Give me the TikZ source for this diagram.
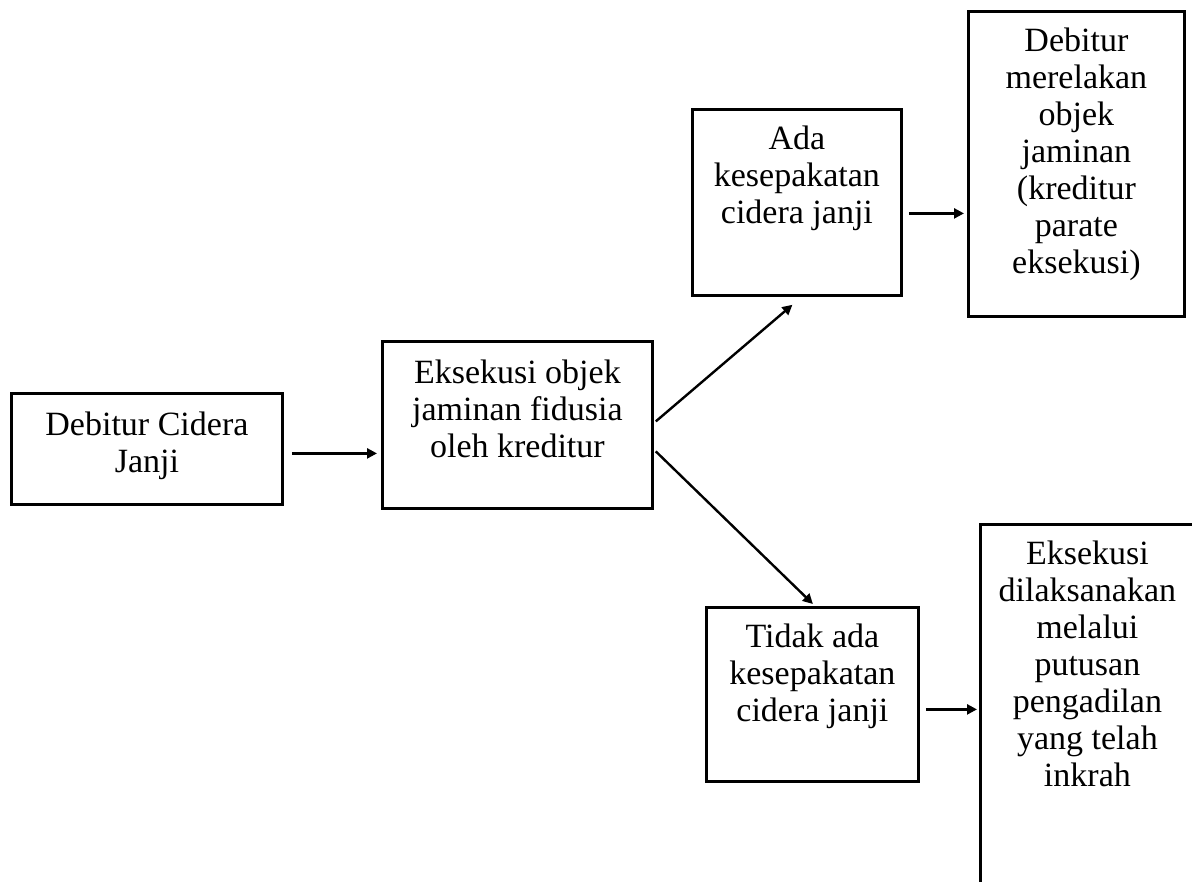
\documentclass[tikz,border=0pt]{standalone}
\usepackage{fontspec}
\setmainfont{Liberation Serif}
\usetikzlibrary{arrows.meta,calc}
\tikzset{
  box/.style={draw, line width=2.8pt, inner sep=0pt, anchor=north west},
  txt/.style={inner sep=0pt, align=center, anchor=north, font=\fontsize{34pt}{37pt}\selectfont},
  arr/.style={line width=2.4pt, -{Triangle[length=10pt,width=10pt]}}
}
\begin{document}
\begin{tikzpicture}[x=1pt,y=-1pt]
\useasboundingbox (0,0) rectangle (1192,882);
\clip (0,0) rectangle (1192,882);
\fill[white] (0,0) rectangle (1192,882);
% boxes
\node[box, minimum width=271pt, minimum height=111pt] (b1) at (10,392) {};
\node[box, minimum width=270pt, minimum height=167pt] (b2) at (381,340) {};
\node[box, minimum width=209pt, minimum height=186pt] (b3) at (691,108) {};
\node[box, minimum width=216pt, minimum height=305pt] (b4) at (967,10) {};
\node[box, minimum width=212pt, minimum height=174pt] (b5) at (705,606) {};
\node[box, minimum width=216pt, minimum height=380pt] (b6) at (979,523) {};
% texts
\node[txt] (t1) at ([yshift=-20pt]b1.north) {Debitur Cidera\\Janji};
\node[txt] (t2) at ([yshift=-20pt]b2.north) {Eksekusi objek\\jaminan fidusia\\oleh kreditur};
\node[txt] (t3) at ([yshift=-18pt]b3.north) {Ada\\kesepakatan\\cidera janji};
\node[txt] (t4) at ([yshift=-18pt]b4.north) {Debitur\\merelakan\\objek\\jaminan\\(kreditur\\parate\\eksekusi)};
\node[txt] (t5) at ([yshift=-18pt]b5.north) {Tidak ada\\kesepakatan\\cidera janji};
\node[txt] (t6) at ([xshift=-1pt,yshift=-18pt]b6.north) {Eksekusi\\dilaksanakan\\melalui\\putusan\\pengadilan\\yang telah\\inkrah};
% connectors
\draw[arr, shorten <=8pt, shorten >=4pt] ([yshift=-4.5pt]b1.east) -- ([yshift=-4.5pt]b1.east -| b2.west);
\draw[arr] ([xshift=2pt,yshift=3.5pt]b2.east) -- ([xshift=-4.5pt,yshift=-8pt]b3.south);
\draw[arr] ([xshift=2pt,yshift=-26.5pt]b2.east) -- ([xshift=0.5pt,yshift=2pt]b5.north);
\draw[arr, shorten <=6pt, shorten >=3pt] ([yshift=-11pt]b3.east) -- ([yshift=-11pt]b3.east -| b4.west);
\draw[arr, shorten <=6pt, shorten >=2pt] ([yshift=-15pt]b5.east) -- ([yshift=-15pt]b5.east -| b6.west);
\end{tikzpicture}
\end{document}
